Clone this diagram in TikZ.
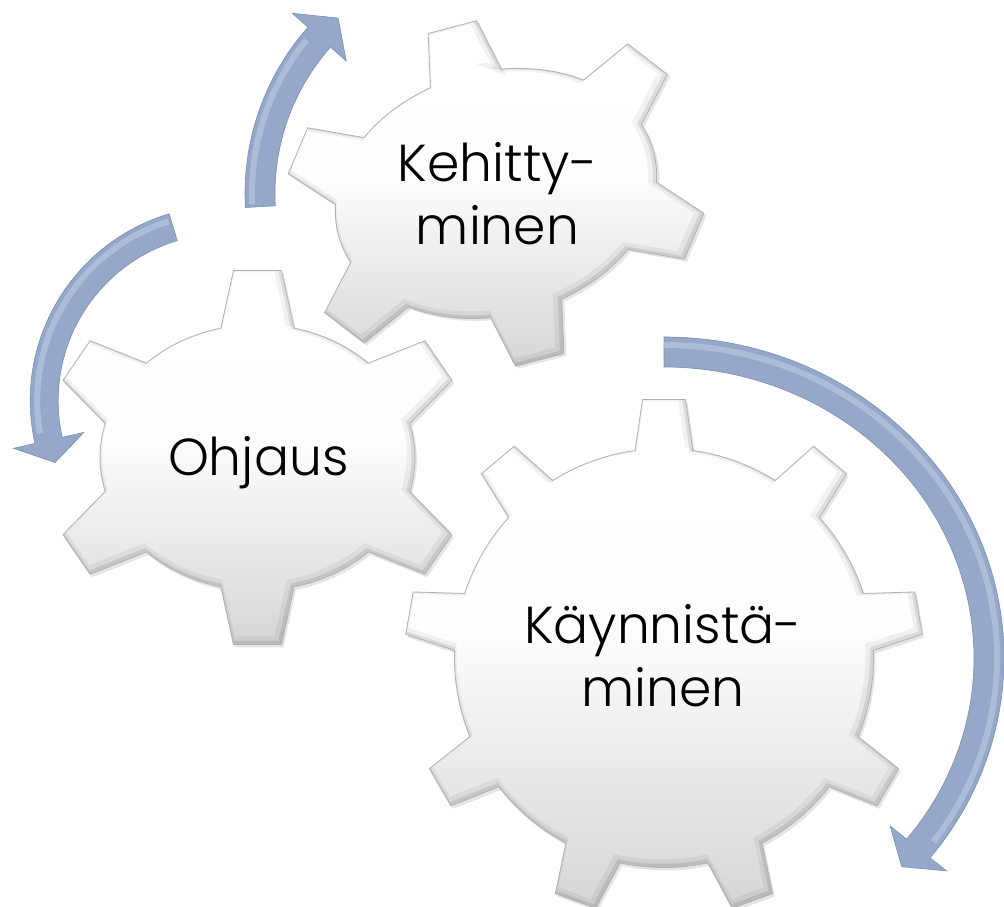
\documentclass[tikz,border=0pt]{standalone}
\usepackage{fontspec}
\setmainfont{Poppins}[UprightFont=* Light]
\usetikzlibrary{calc}
\definecolor{gearedge}{HTML}{B2B2B2}
\definecolor{gearbot}{HTML}{D6D6D6}
\definecolor{arrowmain}{HTML}{95A8C9}
\definecolor{arrowedge}{HTML}{7A8EB2}
\definecolor{arrowlight}{HTML}{C2CFE6}
\pgfdeclareverticalshading{gearshade}{100bp}{color(0bp)=(gearbot); color(25bp)=(gearbot); color(52bp)=(white!94!gearbot); color(66bp)=(white); color(100bp)=(white)}

\makeatletter
% #1 macro, #2 rx, #3 ry, #4 teeth, #5 first angle, #6 tooth length, #7 base half width, #8 tip half width
\newcommand\buildgear[8]{%
  \pgfmathsetmacro\bgRX{#2/100}%
  \pgfmathsetmacro\bgRY{#3/100}%
  \pgfmathsetmacro\bgL{#6/100}%
  \pgfmathsetmacro\bgWB{#7/100}%
  \pgfmathsetmacro\bgWT{#8/100}%
  \pgfmathsetmacro\bgStep{360/#4}%
  \pgfmathtruncatemacro\bgLast{#4-1}%
  \global\let\bgAcc\@empty
  \foreach \bgK in {0,...,\bgLast}{%
    \pgfmathsetmacro\bgT{#5+\bgK*\bgStep}%
    \pgfmathsetmacro\bgCT{cos(\bgT)}%
    \pgfmathsetmacro\bgST{sin(\bgT)}%
    \pgfmathsetmacro\bgSP{sqrt((\bgRX*\bgST)^2+(\bgRY*\bgCT)^2)}%
    \pgfmathsetmacro\bgDL{deg(\bgWB/\bgSP)}%
    \pgfmathsetmacro\bgTN{\bgT+\bgStep}%
    \pgfmathsetmacro\bgSPN{sqrt((\bgRX*sin(\bgTN))^2+(\bgRY*cos(\bgTN))^2)}%
    \pgfmathsetmacro\bgDLN{deg(\bgWB/\bgSPN)}%
    \pgfmathsetmacro\bgNX{\bgCT/\bgRX}%
    \pgfmathsetmacro\bgNY{\bgST/\bgRY}%
    \pgfmathsetmacro\bgNN{sqrt(\bgNX*\bgNX+\bgNY*\bgNY)}%
    \pgfmathsetmacro\bgNX{\bgNX/\bgNN}%
    \pgfmathsetmacro\bgNY{\bgNY/\bgNN}%
    \pgfmathsetmacro\bgTX{0-\bgRX*\bgST/\bgSP}%
    \pgfmathsetmacro\bgTY{\bgRY*\bgCT/\bgSP}%
    \pgfmathsetmacro\bgMX{\bgRX*\bgCT+\bgL*\bgNX}%
    \pgfmathsetmacro\bgMY{\bgRY*\bgST+\bgL*\bgNY}%
    \pgfmathsetmacro\bgAX{100*(\bgMX-\bgWT*\bgTX)}%
    \pgfmathsetmacro\bgAY{100*(\bgMY-\bgWT*\bgTY)}%
    \pgfmathsetmacro\bgBX{100*(\bgMX+\bgWT*\bgTX)}%
    \pgfmathsetmacro\bgBY{100*(\bgMY+\bgWT*\bgTY)}%
    \pgfmathsetmacro\bgSX{100*\bgRX*cos(\bgT-\bgDL)}%
    \pgfmathsetmacro\bgSY{100*\bgRY*sin(\bgT-\bgDL)}%
    \pgfmathsetmacro\bgEX{100*\bgRX*cos(\bgT+\bgDL)}%
    \pgfmathsetmacro\bgEY{100*\bgRY*sin(\bgT+\bgDL)}%
    \pgfmathsetmacro\bgAS{\bgT+\bgDL}%
    \pgfmathsetmacro\bgAE{\bgTN-\bgDLN}%
    \ifnum\bgK=0 \xdef\bgAcc{(\bgSX,\bgSY)}\fi
    \xdef\bgAcc{\bgAcc -- (\bgAX,\bgAY) -- (\bgBX,\bgBY) -- (\bgEX,\bgEY) arc[start angle=\bgAS, end angle=\bgAE, x radius=#2, y radius=#3]}%
  }%
  \xdef#1{\bgAcc -- cycle}%
}
\makeatother

\buildgear{\gearBig}{209.5}{209.5}{9}{90}{49}{29}{21.5}
\buildgear{\gearOhj}{157.5}{133}{6}{90}{54}{37}{24}
\buildgear{\gearKeh}{163}{122}{6}{90}{50}{37}{25}

\newcommand\drawgear[4]{%
  \begin{scope}[shift={(#2,#3)}, rotate=#4]
    \fill[black, opacity=0.10, shift={(2,-3)}] #1;
    \shade[shading=gearshade] #1;
    \begin{scope}
      \clip #1;
      \draw[black, opacity=0.05, line width=10pt, shift={(-3,3)}] #1;
      \draw[black, opacity=0.09, line width=4pt, shift={(-1.5,1.5)}] #1;
    \end{scope}
    \draw[gearedge, line width=0.8pt] #1;
  \end{scope}}

\tikzset{
  gtext/.style={inner sep=0pt, anchor=base, text=black, font=\fontsize{52}{63}\selectfont},
  arrowbody/.style={fill=arrowmain, draw=arrowedge, line width=0.6pt},
  arrowhl/.style={draw=arrowlight, line width=6pt, opacity=0.55}
}

\begin{document}
\begin{tikzpicture}[x=1pt,y=1pt]
\useasboundingbox (0,0) rectangle (1004,907);
\fill[white] (0,0) rectangle (1004,907);

% gears
\drawgear{\gearBig}{664}{249}{0}
\drawgear{\gearOhj}{257.5}{449.5}{0}
\drawgear{\gearKeh}{496}{713.5}{14.7}

% arrow centres
\coordinate (cB) at (664,249);
\coordinate (cO) at (225.2,506.4);
\coordinate (cH) at (496,713.5);

% big arrow (around Kaynnistaminen)
\path[arrowbody] (664,570) arc[start angle=90, end angle=-38.5, x radius=340, y radius=321]
  -- ({664+361*cos(-38.5)},{249+342*sin(-38.5)})
  -- ({664+325*cos(-43)},{249+306*sin(-43)})
  -- ({664+289*cos(-38.5)},{249+270*sin(-38.5)})
  -- ({664+310*cos(-38.5)},{249+291*sin(-38.5)})
  arc[start angle=-38.5, end angle=90, x radius=310, y radius=291] -- cycle;
\draw[arrowhl] (664,562) arc[start angle=90, end angle=-36, x radius=333, y radius=313];

% Ohjaus arrow
\path[arrowbody] ($(cO)+(106.7:195)$) arc[start angle=106.7, end angle=192.7, radius=195]
  -- ($(cO)+(192.7:217)$) -- ($(cO)+(200:181)$) -- ($(cO)+(192.7:145)$)
  -- ($(cO)+(192.7:167)$) arc[start angle=192.7, end angle=106.7, radius=167] -- cycle;
\draw[arrowhl] ($(cO)+(107.5:188)$) arc[start angle=107.5, end angle=190, radius=188];

% Kehittyminen arrow
\path[arrowbody] ($(cH)+(183.2:251)$) arc[start angle=183.2, end angle=138.5, radius=251]
  -- ($(cH)+(138.5:272)$) -- ($(cH)+(132:236)$) -- ($(cH)+(138.5:200)$)
  -- ($(cH)+(138.5:221)$) arc[start angle=138.5, end angle=183.2, radius=221] -- cycle;
\draw[arrowhl] ($(cH)+(182.5:244)$) arc[start angle=182.5, end angle=141, radius=244];

% texts
\node[gtext] (tK) at (663,263) {\begin{tabular}[t]{@{}c@{}}Käynnistä-\\minen\end{tabular}};
\node[gtext] (tH) at (497.5,725.3) {\begin{tabular}[t]{@{}c@{}}Kehitty-\\minen\end{tabular}};
\node[gtext] (tO) at (258.3,431.3) {Ohjaus};
\end{tikzpicture}
\end{document}
